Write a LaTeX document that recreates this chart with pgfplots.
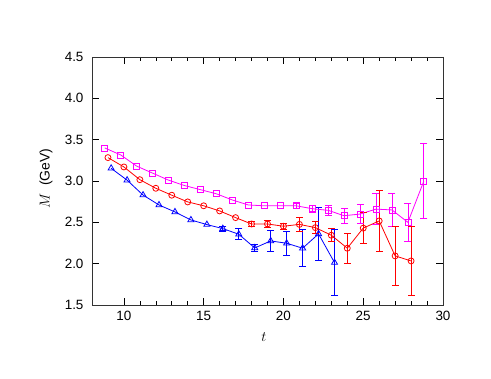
\documentclass[border=0pt]{standalone}
\usepackage{fontspec}
\setmainfont{Liberation Sans}
\usepackage{pgfplots}
\pgfplotsset{compat=1.18}
\definecolor{mag}{RGB}{255,0,255}
\definecolor{rd}{RGB}{255,0,0}
\definecolor{bl}{RGB}{0,0,255}

\begin{document}
\begin{tikzpicture}
\useasboundingbox (0,0) rectangle (491bp,379bp);
\begin{axis}[
    at={(92bp,74bp)}, anchor=south west,
    width=351bp, height=248bp, scale only axis,
    xmin=8, xmax=30, ymin=1.5, ymax=4.5,
    xtick={10,15,20,25,30},
    ytick={1.5,2.0,2.5,3.0,3.5,4.0,4.5},
    minor x tick num=4,
    major tick length=7bp, minor tick length=4bp,
    tick align=inside,
    tick style={line width=0.6bp, black},
    axis line style={line width=0.8bp, black!80},
    /pgf/number format/assume math mode=true,
    yticklabel style={/pgf/number format/fixed, /pgf/number format/fixed zerofill,
        /pgf/number format/precision=1, xshift=-5bp},
    xticklabel style={yshift=-3bp},
    tick label style={font=\fontsize{13.5}{15}\selectfont},
    xlabel={$t$}, ylabel={$M$\ \ (GeV)},
    every axis y label/.style={at={(axis description cs:-0.131,0.51)}, rotate=90,
        anchor=center, font=\fontsize{14}{15}\selectfont},
    every axis x label/.style={at={(axis description cs:0.49,-0.128)},
        anchor=center, font=\fontsize{15}{16}\selectfont},
    every axis plot/.append style={line width=0.8bp},
    unbounded coords=jump,
]

% error bars (low, high) -- each segment split by nan
\addplot[mag, mark=-, mark size=3.5bp, forget plot] coordinates {
(20.8,2.665) (20.8,2.735) (20.8,nan) (21.8,2.62) (21.8,2.71) (21.8,nan)
(22.8,2.58) (22.8,2.71) (22.8,nan) (23.8,2.49) (23.8,2.67) (23.8,nan)
(24.8,2.485) (24.8,2.715) (24.8,nan) (25.8,2.47) (25.8,2.85) (25.8,nan)
(26.8,2.45) (26.8,2.85) (26.8,nan) (27.8,2.27) (27.8,2.73) (27.8,nan)
(28.8,2.55) (28.8,3.45)
};
\addplot[rd, mark=-, mark size=3.5bp, forget plot] coordinates {
(18,2.45) (18,2.51) (18,nan) (19,2.44) (19,2.52) (19,nan)
(20,2.413) (20,2.493) (20,nan) (21,2.39) (21,2.56) (21,nan)
(22,2.361) (22,2.511) (22,nan) (23,2.264) (23,2.424) (23,nan)
(24,2.007) (24,2.367) (24,nan) (25,2.24) (25,2.62) (25,nan)
(26,2.147) (26,2.887) (26,nan) (27,1.734) (27,2.454) (27,nan)
(28,1.613) (28,2.453)
};
\addplot[bl, mark=-, mark size=3.5bp, forget plot] coordinates {
(16.2,2.394) (16.2,2.454) (16.2,nan) (17.2,2.291) (17.2,2.421) (17.2,nan)
(18.2,2.15) (18.2,2.23) (18.2,nan) (19.2,2.148) (19.2,2.402) (19.2,nan)
(20.2,2.10) (20.2,2.394) (20.2,nan) (21.2,1.961) (21.2,2.413) (21.2,nan)
(22.2,2.04) (22.2,2.68) (22.2,nan) (23.2,1.613) (23.2,2.413)
};

% magenta squares
\addplot[mag, mark=square, mark size=3bp] coordinates {
(8.8,3.40) (9.8,3.315) (10.8,3.18) (11.8,3.095) (12.8,3.01) (13.8,2.945)
(14.8,2.895) (15.8,2.845) (16.8,2.77) (17.8,2.71) (18.8,2.70) (19.8,2.70)
(20.8,2.70) (21.8,2.665) (22.8,2.645) (23.8,2.58) (24.8,2.60) (25.8,2.66)
(26.8,2.65) (27.8,2.50) (28.8,3.00)
};

% red circles
\addplot[rd, mark=o, mark size=3bp] coordinates {
(9,3.283) (10,3.17) (11,3.016) (12,2.912) (13,2.828) (14,2.747) (15,2.70)
(16,2.638) (17,2.557) (18,2.48) (19,2.48) (20,2.453) (21,2.475) (22,2.436)
(23,2.344) (24,2.187) (25,2.43) (26,2.517) (27,2.094) (28,2.033)
};

% blue triangles
\addplot[bl, mark=triangle, mark size=3.5bp] coordinates {
(9.2,3.154) (10.2,3.01) (11.2,2.83) (12.2,2.71) (13.2,2.626) (14.2,2.529)
(15.2,2.473) (16.2,2.424) (17.2,2.356) (18.2,2.19) (19.2,2.275) (20.2,2.247)
(21.2,2.187) (22.2,2.36) (23.2,2.013)
};

\end{axis}
\end{tikzpicture}
\end{document}
